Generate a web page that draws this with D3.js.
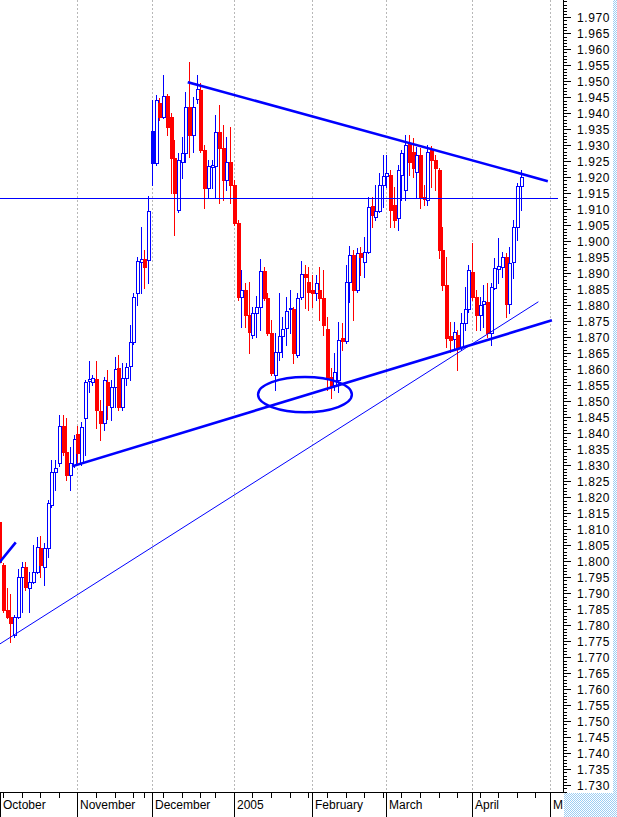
<!DOCTYPE html>
<html><head><meta charset="utf-8">
<script src="https://cdn.jsdelivr.net/npm/d3@7"></script>
<style>html,body{margin:0;padding:0;background:#fff}svg{display:block}</style>
</head><body>
<svg id="chart" width="617" height="817"></svg>
<script>
// ---- DATA ----
const open = [1.8123,1.7988,1.7848,1.7826,1.7770,1.7826,1.7951,1.7982,1.7917,1.7935,
1.7967,1.8042,1.7982,1.8042,1.8176,1.8279,1.8307,1.8423,1.8342,1.8270,
1.8301,1.8398,1.8307,1.8448,1.8563,1.8560,1.8570,1.8470,1.8432,1.8560,
1.8482,1.8545,1.8604,1.8482,1.8573,1.8610,1.8685,1.8838,1.8935,1.8945,
1.8942,1.9345,1.9245,1.9432,1.9388,1.9454,1.9388,1.9260,1.9098,1.9248,
1.9276,1.9420,1.9332,1.9445,1.9473,1.9285,1.9167,1.9232,1.9235,1.9342,
1.9292,1.9192,1.9248,1.9176,1.9057,1.8826,1.8848,1.8770,1.8707,1.8776,
1.8795,1.8907,1.8823,1.8713,1.8582,1.8654,1.8704,1.8729,1.8788,1.8788,
1.8645,1.8826,1.8898,1.8873,1.8848,1.8838,1.8848,1.8823,1.8726,1.8576,
1.8551,1.8567,1.8698,1.8688,1.8873,1.8957,1.8848,1.8963,1.8935,1.8967,
1.9110,1.9076,1.9095,1.9176,1.9204,1.9207,1.9113,1.9073,1.9207,1.9160,
1.9304,1.9279,1.9217,1.9270,1.9138,1.9129,1.9285,1.9254,1.9223,1.8973,
1.8863,1.8704,1.8695,1.8707,1.8670,1.8745,1.8788,1.8904,1.8826,1.8770,
1.8804,1.8810,1.8713,1.8854,1.8913,1.8920,1.8951,1.8804,1.8935,1.9045,
1.9173];
const high = [1.8135,1.7995,1.7917,1.7898,1.7832,1.7976,1.7998,1.7998,1.7967,1.8051,
1.8076,1.8079,1.8057,1.8192,1.8317,1.8317,1.8457,1.8457,1.8448,1.8357,
1.8395,1.8423,1.8435,1.8567,1.8626,1.8582,1.8626,1.8504,1.8576,1.8598,
1.8567,1.8638,1.8645,1.8620,1.8620,1.8738,1.8838,1.8951,1.9045,1.8973,
1.9142,1.9442,1.9457,1.9448,1.9520,1.9460,1.9401,1.9317,1.9276,1.9326,
1.9467,1.9560,1.9451,1.9520,1.9495,1.9301,1.9254,1.9254,1.9395,1.9426,
1.9364,1.9326,1.9357,1.9192,1.9067,1.8910,1.8870,1.8873,1.8795,1.8829,
1.8945,1.8920,1.8838,1.8754,1.8713,1.8838,1.8763,1.8826,1.8848,1.8795,
1.8838,1.8938,1.8926,1.8920,1.8895,1.8895,1.8920,1.8910,1.8763,1.8604,
1.8651,1.8748,1.8745,1.8926,1.8985,1.8973,1.8979,1.8982,1.9013,1.9138,
1.9138,1.9176,1.9213,1.9270,1.9270,1.9223,1.9170,1.9238,1.9285,1.9332,
1.9332,1.9323,1.9295,1.9292,1.9176,1.9301,1.9298,1.9270,1.9229,1.9045,
1.8951,1.8748,1.8748,1.8723,1.8776,1.8857,1.8926,1.8995,1.8848,1.8826,
1.8863,1.8870,1.8870,1.8948,1.9010,1.8967,1.8963,1.8982,1.9067,1.9182,
1.9223];
const low = [1.7988,1.7842,1.7823,1.7748,1.7763,1.7823,1.7842,1.7910,1.7842,1.7932,
1.7963,1.7951,1.7926,1.8013,1.8170,1.8223,1.8298,1.8332,1.8254,1.8223,
1.8295,1.8307,1.8301,1.8332,1.8529,1.8551,1.8417,1.8379,1.8410,1.8445,
1.8442,1.8482,1.8473,1.8473,1.8551,1.8567,1.8680,1.8801,1.8838,1.8854,
1.8870,1.9176,1.9238,1.9379,1.9385,1.9332,1.9151,1.9020,1.9092,1.9198,
1.9248,1.9263,1.9279,1.9432,1.9279,1.9104,1.9135,1.9167,1.9138,1.9120,
1.9129,1.9160,1.9120,1.9051,1.8817,1.8732,1.8732,1.8651,1.8698,1.8701,
1.8723,1.8817,1.8707,1.8582,1.8535,1.8629,1.8638,1.8676,1.8713,1.8620,
1.8638,1.8820,1.8792,1.8785,1.8795,1.8817,1.8754,1.8707,1.8535,1.8510,
1.8535,1.8529,1.8660,1.8682,1.8810,1.8754,1.8842,1.8895,1.8888,1.8963,
1.9045,1.9067,1.9092,1.9107,1.9170,1.9045,1.9045,1.9035,1.9129,1.9129,
1.9207,1.9201,1.9138,1.9104,1.9113,1.9113,1.9170,1.9160,1.8948,1.8848,
1.8670,1.8654,1.8667,1.8598,1.8660,1.8723,1.8779,1.8817,1.8723,1.8723,
1.8732,1.8701,1.8676,1.8850,1.8870,1.8888,1.8763,1.8776,1.8885,1.9004,
1.9098];
const close = [1.7998,1.7848,1.7826,1.7807,1.7826,1.7951,1.7982,1.7920,1.7935,1.7967,
1.8045,1.7988,1.8042,1.8182,1.8279,1.8292,1.8423,1.8342,1.8270,1.8307,
1.8382,1.8338,1.8420,1.8560,1.8570,1.8573,1.8473,1.8432,1.8567,1.8488,
1.8545,1.8601,1.8482,1.8573,1.8607,1.8685,1.8826,1.8938,1.8945,1.8920,
1.9095,1.9245,1.9442,1.9388,1.9454,1.9357,1.9260,1.9151,1.9254,1.9276,
1.9420,1.9332,1.9420,1.9476,1.9285,1.9167,1.9235,1.9238,1.9342,1.9292,
1.9192,1.9248,1.9176,1.9057,1.8826,1.8848,1.8770,1.8717,1.8776,1.8795,
1.8907,1.8823,1.8713,1.8588,1.8654,1.8704,1.8726,1.8782,1.8792,1.8651,
1.8823,1.8898,1.8888,1.8842,1.8838,1.8870,1.8823,1.8738,1.8573,1.8545,
1.8592,1.8692,1.8688,1.8873,1.8957,1.8848,1.8963,1.8951,1.8967,1.9107,
1.9082,1.9095,1.9176,1.9204,1.9213,1.9098,1.9067,1.9223,1.9276,1.9301,
1.9248,1.9229,1.9270,1.9138,1.9132,1.9279,1.9254,1.9229,1.8973,1.8863,
1.8698,1.8692,1.8717,1.8670,1.8745,1.8788,1.8910,1.8826,1.8770,1.8801,
1.8813,1.8713,1.8857,1.8917,1.8923,1.8951,1.8804,1.8932,1.9045,1.9173,
1.9201];

// categories: month labels and the trading-day index where each month starts
const monthLabels = ["October","November","December","2005","February","March","April","May"];
const monthStarts = [0,21,41,63,84,104,127,148];
// trading-day index of each Monday (weekly ticks)
const weekTicks = [1,6,11,16,26,31,36,39,44,49,54,58,68,73,78,83,88,93,98,103,108,113,118,123,129,134,139,144];
// price axis labels
const priceLabels = ["1.730","1.735","1.740","1.745","1.750","1.755","1.760","1.765","1.770","1.775",
"1.780","1.785","1.790","1.795","1.800","1.805","1.810","1.815","1.820","1.825","1.830","1.835",
"1.840","1.845","1.850","1.855","1.860","1.865","1.870","1.875","1.880","1.885","1.890","1.895",
"1.900","1.905","1.910","1.915","1.920","1.925","1.930","1.935","1.940","1.945","1.950","1.955",
"1.960","1.965","1.970"];
// annotations (trading-day index, price)
const hLevel = 1.9135;
const trendThick = [
  {i1:50.95, p1:1.9496, i2:147.0, p2:1.9189},
  {i1:19.9,  p1:1.8298, i2:148.1, p2:1.8752},
  {i1:-0.5,  p1:1.7989, i2:4.2,   p2:1.8056}
];
const trendThin = [{i1:0.19, p1:1.7742, i2:144.8, p2:1.8811}];
const ellipseAnn = {i:82.1, p:1.8521, di:12.6, dp:0.0055};

// ---- LAYOUT ----
const W = 617, H = 817, plotRight = 563, axisY = 792;
const BLUE = "#0000ff", RED = "#ff0000";
const x = d3.scaleLinear().domain([0,148]).range([-0.7,550.3]);
const y = d3.scaleLinear().domain([1.730,1.970]).range([785.3,17.3]);

const svg = d3.select("#chart");
const defs = svg.append("defs");
defs.append("clipPath").attr("id","plot").append("rect")
  .attr("x",0).attr("y",0).attr("width",plotRight).attr("height",axisY);
defs.append("clipPath").attr("id","labclip").append("rect")
  .attr("x",0).attr("y",axisY).attr("width",plotRight).attr("height",H-axisY);
const pat = defs.append("pattern").attr("id","dots").attr("width",2).attr("height",2)
  .attr("patternUnits","userSpaceOnUse");
pat.append("rect").attr("width",2).attr("height",2).attr("fill","#ffffff");
pat.append("rect").attr("x",0).attr("y",0).attr("width",1).attr("height",1).attr("fill","#9ccdf3");
pat.append("rect").attr("x",1).attr("y",1).attr("width",1).attr("height",1).attr("fill","#9ccdf3");

svg.append("rect").attr("width",W).attr("height",H).attr("fill","#fff");
// light blue dotted frame areas
svg.append("rect").attr("x",613).attr("y",0).attr("width",4).attr("height",H).attr("fill","url(#dots)");
svg.append("rect").attr("x",plotRight+1).attr("y",axisY+1).attr("width",W-plotRight-1).attr("height",H-axisY-1).attr("fill","url(#dots)");

const plot = svg.append("g").attr("clip-path","url(#plot)");

// month gridlines
plot.append("g").attr("shape-rendering","crispEdges").selectAll("line").data(monthStarts).join("line")
  .attr("x1",d=>Math.round(x(d))+0.5).attr("x2",d=>Math.round(x(d))+0.5)
  .attr("y1",0).attr("y2",axisY)
  .attr("stroke","#b8b8b8").attr("stroke-dasharray","2,2");

// candles
const cg = plot.append("g").attr("shape-rendering","crispEdges");
close.forEach((c,i)=>{
  const o = open[i], h = high[i], l = low[i];
  const prev = i>0 ? close[i-1] : o;
  const col = c >= prev ? BLUE : RED;
  const cx = Math.round(x(i));
  const yh = Math.round(y(h)), yl = Math.round(y(l));
  cg.append("rect").attr("x",cx).attr("y",yh).attr("width",1).attr("height",yl-yh+1).attr("fill",col);
  const yt = Math.round(y(Math.max(o,c))), yb = Math.round(y(Math.min(o,c)));
  if (c >= o) {
    cg.append("rect").attr("x",cx-0.5).attr("y",yt+0.5).attr("width",3)
      .attr("height",Math.max(yb-yt,1)).attr("fill","#fff").attr("stroke",col).attr("stroke-width",1);
  } else {
    cg.append("rect").attr("x",cx-1).attr("y",yt).attr("width",4)
      .attr("height",Math.max(yb-yt+1,2)).attr("fill",col);
  }
});

// horizontal level
plot.append("line").attr("shape-rendering","crispEdges")
  .attr("x1",0).attr("x2",558).attr("y1",Math.round(y(hLevel))+0.5).attr("y2",Math.round(y(hLevel))+0.5)
  .attr("stroke",BLUE).attr("stroke-width",1);

// trend lines
plot.append("g").selectAll("line").data(trendThick).join("line")
  .attr("x1",d=>x(d.i1)).attr("y1",d=>y(d.p1)).attr("x2",d=>x(d.i2)).attr("y2",d=>y(d.p2))
  .attr("stroke",BLUE).attr("stroke-width",2.6).attr("stroke-linecap","square");
plot.append("g").selectAll("line").data(trendThin).join("line")
  .attr("x1",d=>x(d.i1)).attr("y1",d=>y(d.p1)).attr("x2",d=>x(d.i2)).attr("y2",d=>y(d.p2))
  .attr("stroke",BLUE).attr("stroke-width",1);
plot.append("ellipse")
  .attr("cx",x(ellipseAnn.i)).attr("cy",y(ellipseAnn.p))
  .attr("rx",x(ellipseAnn.i+ellipseAnn.di)-x(ellipseAnn.i))
  .attr("ry",y(ellipseAnn.p-ellipseAnn.dp)-y(ellipseAnn.p))
  .attr("fill","none").attr("stroke",BLUE).attr("stroke-width",2.4);

// right price axis
const minorVals = d3.range(1728,1976).map(k=>k/1000);
const ry = v => Math.round(y(v)) + 0.5;
const axG = svg.append("g").attr("shape-rendering","crispEdges");
axG.append("line").attr("x1",plotRight+0.5).attr("x2",plotRight+0.5).attr("y1",0).attr("y2",axisY+1)
  .attr("stroke","#000");
axG.selectAll("line.minor").data(minorVals).join("line").attr("class","minor")
  .attr("x1",plotRight).attr("x2",plotRight+4).attr("y1",ry).attr("y2",ry).attr("stroke","#000");
axG.selectAll("line.major").data(priceLabels.map(Number)).join("line").attr("class","major")
  .attr("x1",plotRight).attr("x2",plotRight+8).attr("y1",ry).attr("y2",ry).attr("stroke","#000");
svg.append("g").selectAll("text").data(priceLabels).join("text")
  .attr("x",577).attr("y",d=>y(+d)+4.3)
  .attr("font-family","'Liberation Sans', Arial, sans-serif").attr("font-size",12)
  .attr("letter-spacing","0.6px").attr("fill","#000").text(d=>d);

// bottom time axis
const bx = svg.append("g").attr("shape-rendering","crispEdges");
bx.append("line").attr("x1",0).attr("x2",plotRight+1).attr("y1",axisY+0.5).attr("y2",axisY+0.5).attr("stroke","#000");
bx.selectAll("line.wk").data(weekTicks).join("line").attr("class","wk")
  .attr("x1",d=>Math.round(x(d))+0.5).attr("x2",d=>Math.round(x(d))+0.5)
  .attr("y1",axisY).attr("y2",axisY+6).attr("stroke","#000");
bx.selectAll("line.mo").data(monthStarts).join("line").attr("class","mo")
  .attr("x1",d=>Math.max(Math.round(x(d)),0)+0.5).attr("x2",d=>Math.max(Math.round(x(d)),0)+0.5)
  .attr("y1",axisY).attr("y2",H).attr("stroke","#000");
svg.append("g").attr("clip-path","url(#labclip)").selectAll("text").data(monthLabels).join("text")
  .attr("x",(d,k)=>Math.max(Math.round(x(monthStarts[k])),0)+3).attr("y",809)
  .attr("font-family","'Liberation Sans', Arial, sans-serif").attr("font-size",12)
  .attr("fill","#000").text(d=>d);
</script>
</body></html>
